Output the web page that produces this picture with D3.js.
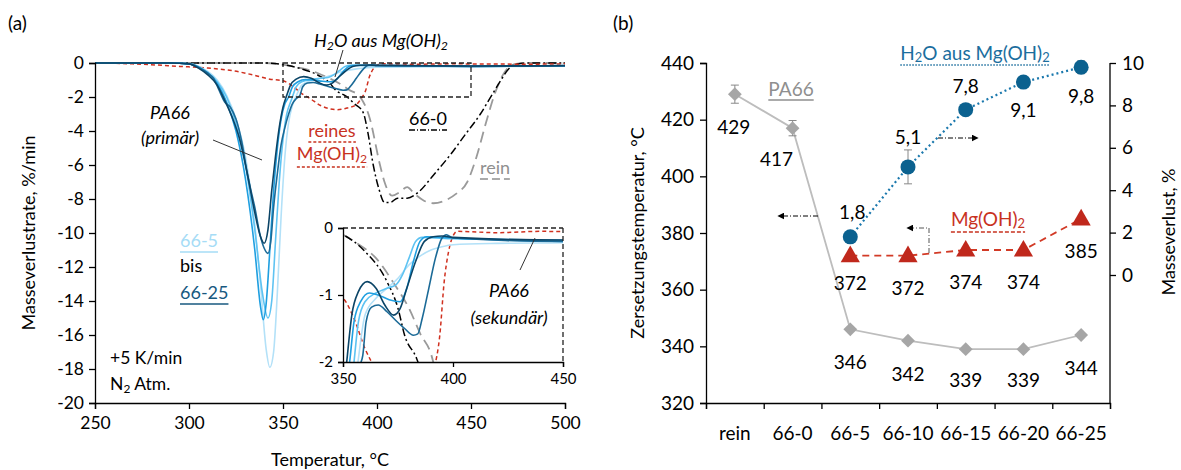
<!DOCTYPE html>
<html><head><meta charset="utf-8">
<script src="https://cdn.jsdelivr.net/npm/d3@7"></script>
<style>body{margin:0;background:#fff} svg{font-family:Lato,"Open Sans",sans-serif}</style>
</head><body><svg id="c" width="1181" height="470"></svg>
<script>
// ---------- DATA: panel (a) ----------
const tempTicks = [250,300,350,400,450,500];
const rateTicks = [0,-2,-4,-6,-8,-10,-12,-14,-16,-18,-20];
const insetTempTicks = [350,400,450];
const insetRateTicks = [0,-1,-2];

const t665 = [250,290,300,305,310,315,320,325,330,335,338,341,343,345,347,349,351,353,355,357,360,365,370,375,380,385,390,395,400,420,450,475,500];
const v665 = [0,0,-0.05,-0.2,-0.5,-1.0,-1.9,-3.3,-5.5,-9.5,-13,-16.8,-17.9,-17,-13.5,-9,-5.5,-3.5,-2.5,-1.95,-1.3,-1.05,-0.9,-0.75,-0.55,-0.42,-0.33,-0.28,-0.25,-0.23,-0.22,-0.2,-0.18];
const t6610 = [250,290,300,305,310,315,320,325,330,335,339,342,344,346,348,350,352,354,355,357,360,365,370,374,377,380,383,386,400,420,450,500];
const v6610 = [0,0,-0.05,-0.2,-0.55,-1.1,-2.0,-3.6,-6,-9.8,-13.5,-15,-14,-10.5,-7,-4.5,-3,-2.3,-2.0,-1.4,-1.1,-0.97,-0.9,-0.85,-0.7,-0.45,-0.2,-0.14,-0.16,-0.17,-0.18,-0.15];
const t6615 = [250,290,300,305,310,315,320,325,330,335,338,339.5,341,343,345,347,349,351,353,355,358,362,366,371,376,379,382,385,388,400,450,500];
const v6615 = [0,0,-0.05,-0.25,-0.6,-1.2,-2.3,-4.0,-6.8,-11,-14.3,-15.1,-14.2,-11,-7.5,-5,-3.3,-2.4,-2.0,-1.4,-1.1,-0.97,-1.0,-1.07,-1.1,-0.9,-0.5,-0.2,-0.13,-0.15,-0.2,-0.17];
const t6620 = [250,290,300,305,310,313,316,319,322,325,328,331,335,338,340,342,343.5,345,347,349,351,353,355,357,359,360.5,363,366,370,374,378,382,384,386,389,392,395,397,400,450,500];
const v6620 = [0,0,-0.05,-0.25,-0.6,-0.9,-1.6,-2.3,-2.6,-3.3,-4.6,-6.5,-8.5,-10.2,-10.9,-11.2,-10.5,-8.5,-6.5,-4.8,-3.8,-3.0,-2.4,-2.1,-1.9,-1.4,-1.18,-1.15,-1.25,-1.38,-1.5,-1.6,-1.58,-1.35,-0.9,-0.45,-0.15,-0.1,-0.15,-0.2,-0.17];
const t6625 = [250,290,300,305,310,315,319,323,327,331,335,338,340,342,344,346,348,350,352,354,357,361,365,369,373,376,379,383,387,391,395,400,450,500];
const v6625 = [0,0,-0.05,-0.3,-0.7,-1.3,-2.2,-3.2,-4.5,-6.5,-8.8,-10.2,-10.6,-9.8,-7.5,-5.5,-3.8,-2.6,-1.9,-1.3,-0.95,-0.8,-0.9,-1.15,-1.3,-1.2,-0.9,-0.5,-0.2,-0.13,-0.12,-0.14,-0.18,-0.15];
const tRein = [250,340,350,356,365,373,380,385,391,396,401.6,404,408,412,416,420,425,430,436,442,448,453,458,463,467,470,474,480,500];
const vRein = [0,0,-0.1,-0.22,-0.45,-0.82,-1.2,-1.57,-2.0,-3.2,-6.0,-7.0,-7.8,-7.6,-7.3,-7.7,-8.1,-8.25,-8.1,-7.7,-7.0,-5.5,-3.5,-1.7,-0.7,-0.25,-0.05,0,0];
const t660 = [250,340,350,360,370,375,378,383.5,388,392.6,395,398,401,404,407,411,416,422,430,439,447,455,461,466,470,474,480,500];
const v660 = [0,0,-0.1,-0.35,-0.8,-1.2,-1.6,-1.95,-2.4,-2.9,-4.0,-6.0,-7.4,-8.2,-8.2,-7.95,-7.95,-7.6,-6.6,-5.4,-4.2,-3.0,-1.9,-1.0,-0.35,-0.08,0,0];
const tMg = [250,270,295,310,323,334,343,350,355,360,364.5,370,375,379,384,389,391.5,394,396,398,400,402,420,440,460,480,500];
const vMg = [0,-0.05,-0.2,-0.3,-0.45,-0.7,-0.95,-1.05,-1.35,-1.8,-2.1,-2.5,-2.7,-2.75,-2.65,-2.45,-2.1,-1.6,-0.8,-0.35,-0.12,-0.05,-0.07,-0.05,-0.06,-0.07,-0.05];

// ---------- DATA: panel (b) ----------
const categories = ["rein","66-0","66-5","66-10","66-15","66-20","66-25"];
const tempTicksB = [320,340,360,380,400,420,440];
const lossTicks = [0,2,4,6,8,10];
const pa66Temp = [429,417,346,342,339,339,344];
const pa66Err  = [3.2,2.7,0.5,0.4,0.4,0.4,0.4];
const mgTemp   = [null,null,372,372,374,374,385];
const mgErr    = [0,0,0.4,0.4,0.5,0.5,0.5];
const h2oLoss  = [null,null,1.8,5.1,7.8,9.1,9.8];
const h2oErr   = [0,0,0.1,0.8,0.1,0.1,0.3];

// ---------- DRAW ----------
const svg = d3.select("#c");
const defs = svg.append("defs");
defs.append("marker").attr("id","arr").attr("viewBox","0 0 10 10").attr("refX",2).attr("refY",5)
  .attr("markerWidth",7).attr("markerHeight",7).attr("orient","auto-start-reverse")
  .append("path").attr("d","M0,0L10,5L0,10z").attr("fill","#000");

function txt(g,x,y,parts,o={}){
  const t=g.append("text").attr("x",x).attr("y",y).attr("font-size",o.size||18)
    .attr("fill",o.color||"#000").attr("text-anchor",o.anchor||"middle")
    .attr("dominant-baseline","central");
  if(o.italic) t.attr("font-style","italic");
  if(o.rotate) t.attr("transform",`rotate(${o.rotate},${x},${y})`);
  let prevSub=false;
  (Array.isArray(parts)?parts:[[parts,false]]).forEach(p=>{
    if(p[1]) t.append("tspan").attr("font-size","0.68em").attr("dy",5).text(p[0]);
    else { const s=t.append("tspan").text(p[0]); if(prevSub) s.attr("dy",-5); }
    prevSub=!!p[1];
  });
  if(o.ul){
    const b=t.node().getBBox();
    g.append("line").attr("x1",b.x).attr("x2",b.x+b.width).attr("y1",y+(o.ulOff||11)).attr("y2",y+(o.ulOff||11))
     .attr("stroke",o.ulColor||o.color||"#000").attr("stroke-width",1.3).attr("stroke-dasharray",o.ul==="solid"?null:o.ul);
  }
  return t;
}
function styleAxis(a,fs){ a.selectAll("path,line").attr("stroke","#000").attr("stroke-width",1.3);
  a.selectAll("text").attr("font-size",fs).attr("fill","#000").attr("font-family","Lato,sans-serif"); }

// panel (a)
const x = d3.scaleLinear().domain([250,500]).range([95,565]);
const y = d3.scaleLinear().domain([-20,0]).range([403,63]);
const xi = d3.scaleLinear().domain([350,450]).range([343,563]);
const yi = d3.scaleLinear().domain([-2,0]).range([362,228]);

const series = [
  {t:tRein,v:vRein,c:"#9a9a9a",w:1.8,d:"11,6"},
  {t:t660,v:v660,c:"#000",w:1.5,d:"8,3,2,3"},
  {t:tMg,v:vMg,c:"#d0301f",w:1.5,d:"4,3"},
  {t:t665,v:v665,c:"#b3e1f8",w:1.6},
  {t:t6610,v:v6610,c:"#5ec3f2",w:1.6},
  {t:t6615,v:v6615,c:"#1f9fe0",w:1.6},
  {t:t6620,v:v6620,c:"#1b6a97",w:1.6},
  {t:t6625,v:v6625,c:"#0b4466",w:1.6}
];
const ga = svg.append("g");
const lineMain = d3.line().x(d=>x(d[0])).y(d=>y(d[1])).curve(d3.curveMonotoneX);
series.forEach(s=>{
  ga.append("path").attr("d",lineMain(s.t.map((t,i)=>[t,s.v[i]]))).attr("fill","none")
   .attr("stroke",s.c).attr("stroke-width",s.w).attr("stroke-dasharray",s.d||null);
});
ga.append("rect").attr("x",x(350)).attr("y",y(0)).attr("width",x(450)-x(350)).attr("height",y(-2)-y(0))
  .attr("fill","none").attr("stroke","#222").attr("stroke-width",1.3).attr("stroke-dasharray","5,3");
const axYa = ga.append("g").attr("transform","translate(95,0)").call(d3.axisLeft(y).tickValues(rateTicks).tickSize(6).tickPadding(5));
styleAxis(axYa,17.5);
axYa.selectAll(".tick text").text(d=>d<0?"-"+Math.abs(d):d);
const axXa = ga.append("g").attr("transform","translate(0,403)").call(d3.axisBottom(x).tickValues(tempTicks).tickSize(6).tickPadding(8));
styleAxis(axXa,17.5);

// inset
const gi = svg.append("g");
gi.append("rect").attr("x",343).attr("y",228).attr("width",220).attr("height",134).attr("fill","#fff");
defs.append("clipPath").attr("id","clipI").append("rect").attr("x",343).attr("y",228).attr("width",220).attr("height",134);
const lineIn = d3.line().x(d=>xi(d[0])).y(d=>yi(d[1])).curve(d3.curveMonotoneX);
const gic = gi.append("g").attr("clip-path","url(#clipI)");
series.forEach(s=>{
  gic.append("path").attr("d",lineIn(s.t.map((t,i)=>[t,s.v[i]]))).attr("fill","none")
   .attr("stroke",s.c).attr("stroke-width",s.w).attr("stroke-dasharray",s.d||null);
});
gi.append("line").attr("x1",343).attr("x2",563).attr("y1",228).attr("y2",228).attr("stroke","#222").attr("stroke-width",1.3).attr("stroke-dasharray","5,3");
gi.append("line").attr("x1",563).attr("x2",563).attr("y1",228).attr("y2",362).attr("stroke","#222").attr("stroke-width",1.3).attr("stroke-dasharray","5,3");
const axYi = gi.append("g").attr("transform","translate(343,0)").call(d3.axisLeft(yi).tickValues(insetRateTicks).tickSize(5).tickPadding(5));
styleAxis(axYi,15);
axYi.selectAll(".tick text").text(d=>d<0?"-"+Math.abs(d):d);
const axXi = gi.append("g").attr("transform","translate(0,362)").call(d3.axisBottom(xi).tickValues(insetTempTicks).tickSize(5).tickPadding(6));
styleAxis(axXi,15);

// annotations (a)
txt(ga,8,22,"(a)",{anchor:"start",size:19});
txt(ga,381,40,[["H",0],["2",1],["O aus Mg(OH)",0],["2",1]],{italic:true,size:18});
ga.append("line").attr("x1",343).attr("y1",50).attr("x2",335).attr("y2",77).attr("stroke","#333").attr("stroke-width",1);
txt(ga,170,112,"PA66",{italic:true});
txt(ga,170,137,"(primär)",{italic:true});
ga.append("line").attr("x1",213).attr("y1",140).attr("x2",262).attr("y2",160).attr("stroke","#333").attr("stroke-width",1);
txt(ga,332,130,"reines",{color:"#c8321f",ul:"3,2",ulOff:12});
txt(ga,332,153,[["Mg(OH)",0],["2",1]],{color:"#c8321f",ul:"3,2",ulOff:14});
txt(ga,428,118,"66-0",{ul:"6,2,1,2",ulOff:12});
txt(ga,495,167,"rein",{color:"#8f8f8f",ul:"8,4",ulOff:12});
txt(ga,180,240,"66-5",{anchor:"start",color:"#a6dcf6",ul:"solid",ulOff:12});
txt(ga,180,265,"bis",{anchor:"start"});
txt(ga,180,292,"66-25",{anchor:"start",color:"#17597f",ul:"solid",ulOff:12});
txt(ga,110,357,"+5 K/min",{anchor:"start",size:17.5});
txt(ga,110,383,[["N",0],["2",1],[" Atm.",0]],{anchor:"start",size:17.5});
txt(gi,509,290,"PA66",{italic:true});
txt(gi,509,317,"(sekundär)",{italic:true});
gi.append("line").attr("x1",520).attr("y1",270).attr("x2",535).attr("y2",238).attr("stroke","#333").attr("stroke-width",1);
txt(ga,330,459,"Temperatur, °C",{size:18});
txt(ga,28,233,"Masseverlustrate, %/min",{size:18,rotate:-90});

// panel (b)
const gb = svg.append("g");
const xb = d3.scaleBand().domain(categories).range([706,1110]);
const xt = d3.scaleLinear().domain([0,7]).range([706,1110]);
const yL = d3.scaleLinear().domain([320,440]).range([403,63]);
const yR = d3.scaleLinear().domain([0,10]).range([275,63]);
const cx = c=>xb(c)+xb.bandwidth()/2;

const axL = gb.append("g").attr("transform","translate(706,0)").call(d3.axisLeft(yL).tickValues(tempTicksB).tickSize(6).tickPadding(6));
styleAxis(axL,19);
const axB = gb.append("g").attr("transform","translate(0,403)").call(d3.axisBottom(xt).tickValues(d3.range(8)).tickSize(6).tickFormat(""));
styleAxis(axB,19);
categories.forEach(c=>txt(gb,cx(c),432,c,{size:19}));
const axR = gb.append("g").attr("transform","translate(1110,0)").call(d3.axisRight(yR).tickValues(lossTicks).tickSize(6).tickPadding(6));
styleAxis(axR,19); axR.select(".domain").remove();
gb.append("line").attr("x1",1110).attr("x2",1110).attr("y1",63).attr("y2",403).attr("stroke","#000").attr("stroke-width",1.3);

function errbar(xp,y1,y2){
  gb.append("line").attr("x1",xp).attr("x2",xp).attr("y1",y1).attr("y2",y2).attr("stroke","#888").attr("stroke-width",1);
  [y1,y2].forEach(yy=>gb.append("line").attr("x1",xp-4).attr("x2",xp+4).attr("y1",yy).attr("y2",yy).attr("stroke","#888").attr("stroke-width",1));
}
// PA66
const paPts = categories.map((c,i)=>[cx(c),yL(pa66Temp[i])]);
gb.append("path").attr("d",d3.line()(paPts)).attr("fill","none").attr("stroke","#bdbdbd").attr("stroke-width",1.8);
categories.forEach((c,i)=>{
  errbar(cx(c),yL(pa66Temp[i]+pa66Err[i]),yL(pa66Temp[i]-pa66Err[i]));
  gb.append("path").attr("d",d3.symbol(d3.symbolSquare,95)()).attr("transform",`translate(${cx(c)},${yL(pa66Temp[i])}) rotate(45)`).attr("fill","#a6a6a6");
});
const paLab = [[-1,32],[-16,30],[0,32],[0,32],[0,30],[0,30],[0,32]];
categories.forEach((c,i)=>txt(gb,cx(c)+paLab[i][0],yL(pa66Temp[i])+paLab[i][1],String(pa66Temp[i]),{size:19}));
// Mg(OH)2
const mgIdx = categories.map((c,i)=>i).filter(i=>mgTemp[i]!=null);
gb.append("path").attr("d",d3.line()(mgIdx.map(i=>[cx(categories[i]),yL(mgTemp[i])]))).attr("fill","none").attr("stroke","#d23a26").attr("stroke-width",1.8).attr("stroke-dasharray","7,5");
mgIdx.forEach(i=>{
  errbar(cx(categories[i]),yL(mgTemp[i]+mgErr[i]),yL(mgTemp[i]-mgErr[i]));
  gb.append("path").attr("d",d3.symbol(d3.symbolTriangle,160)()).attr("transform",`translate(${cx(categories[i])},${yL(mgTemp[i])+1})`).attr("fill","#c0281c");
  txt(gb,cx(categories[i]),yL(mgTemp[i])+(i===2?26:31),String(mgTemp[i]),{size:19});
});
// H2O
const hIdx = categories.map((c,i)=>i).filter(i=>h2oLoss[i]!=null);
gb.append("path").attr("d",d3.line()(hIdx.map(i=>[cx(categories[i]),yR(h2oLoss[i])]))).attr("fill","none").attr("stroke","#1a78ad").attr("stroke-width",2.2).attr("stroke-dasharray","2,3");
hIdx.forEach(i=>{
  errbar(cx(categories[i]),yR(h2oLoss[i]+h2oErr[i]),yR(h2oLoss[i]-h2oErr[i]));
  gb.append("circle").attr("cx",cx(categories[i])).attr("cy",yR(h2oLoss[i])).attr("r",7.5).attr("fill","#0b618f");
});
const hLab = [null,null,[2,-26],[0,-31],[0,-25],[0,27],[0,28]];
hIdx.forEach(i=>txt(gb,cx(categories[i])+hLab[i][0],yR(h2oLoss[i])+hLab[i][1],String(h2oLoss[i]).replace(".",","),{size:19}));

// arrows & labels (b)
gb.append("line").attr("x1",818).attr("y1",216).attr("x2",783).attr("y2",216).attr("stroke","#000").attr("stroke-width",1).attr("stroke-dasharray","5,2,1,2").attr("marker-end","url(#arr)");
gb.append("line").attr("x1",938).attr("y1",138).attr("x2",973).attr("y2",138).attr("stroke","#000").attr("stroke-width",1).attr("stroke-dasharray","5,2,1,2").attr("marker-end","url(#arr)");
gb.append("path").attr("d","M929,253V228H912").attr("fill","none").attr("stroke","#555").attr("stroke-width",1).attr("stroke-dasharray","5,2,1,2").attr("marker-end","url(#arr)");
txt(gb,613,22,"(b)",{anchor:"start",size:19});
txt(gb,791,88,"PA66",{color:"#8f8f8f",size:19,ul:"solid",ulOff:12});
txt(gb,975,52,[["H",0],["2",1],["O aus Mg(OH)",0],["2",1]],{color:"#1b6e9e",size:19,ul:"1.5,1.5",ulOff:13});
txt(gb,988,218,[["Mg(OH)",0],["2",1]],{color:"#c8321f",size:19,ul:"4,2",ulOff:14});
txt(gb,637,233,"Zersetzungstemperatur, °C",{size:18,rotate:-90});
txt(gb,1168,232,"Masseverlust, %",{size:18,rotate:-90});
</script></body></html>
